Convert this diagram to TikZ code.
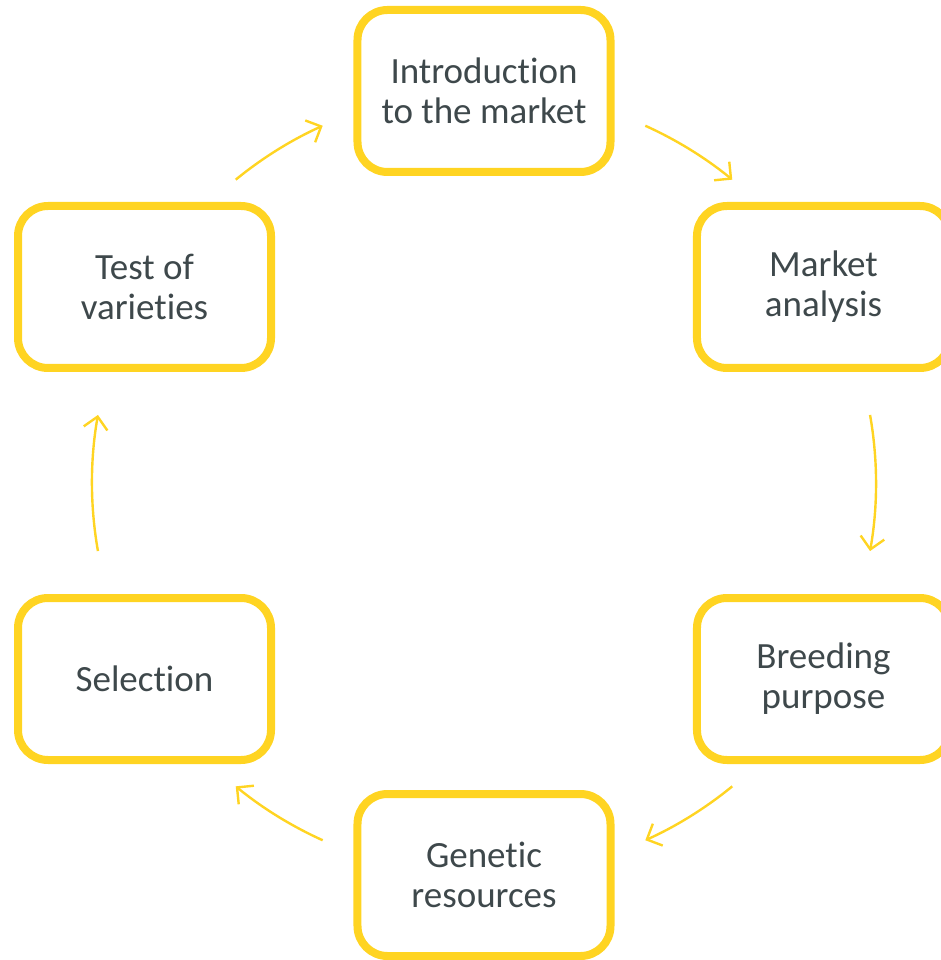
\documentclass[tikz,border=0pt]{standalone}
\usepackage{fontspec}
\setmainfont{Carlito}[Ligatures={NoCommon,NoRequired,NoContextual}]
\usetikzlibrary{arrows.meta}
\definecolor{cycleyellow}{HTML}{FFD422}
\definecolor{labelgray}{HTML}{3E484B}

\begin{document}
\begin{tikzpicture}[x=1pt,y=1pt,
  stage/.style={draw=cycleyellow,line width=8pt,rounded corners=30pt,
    minimum width=253pt,minimum height=162pt,align=center,
    text=labelgray,font=\fontsize{37}{40}\selectfont},
  flow/.style={cycleyellow,line width=2.4pt,-{Straight Barb[length=12pt,width=24pt]}}]
  \def\R{392}
  \useasboundingbox (-484,483) rectangle (457,-477);
  \node[stage] (intro) at (90:\R) {Introduction\\to the market};
  \node[stage] (market) at (30:\R) {Market\\analysis};
  \node[stage] (breeding) at (-30:\R) {Breeding\\purpose};
  \node[stage] (genetic) at (-90:\R) {Genetic\\resources};
  \node[stage] (selection) at (-150:\R) {Selection};
  \node[stage] (test) at (150:\R) {Test of\\varieties};
  % arcs of the cycle, clockwise
  \foreach \a/\d [count=\i] in {65.7/15,10/20,-50.7/15,-114.3/15,-170/20,129.3/15}{
    \coordinate (S\i) at (\a:\R);
    \draw[flow] (S\i) arc[start angle=\a,delta angle=-\d,radius=\R];
  }
\end{tikzpicture}
\end{document}
